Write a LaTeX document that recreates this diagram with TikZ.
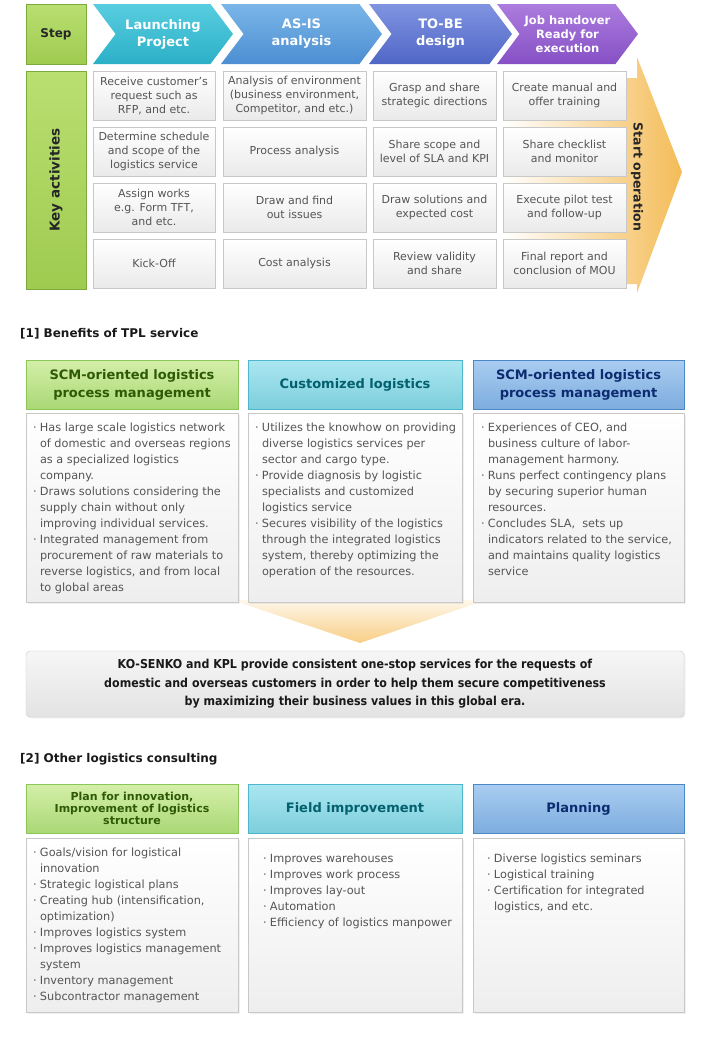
\documentclass[tikz,border=0pt]{standalone}
\usepackage{fontspec}
\setmainfont{DejaVu Sans}
\newfontfamily\condfont[FakeStretch=0.9]{DejaVu Sans}
\usepackage{tikz}
\usetikzlibrary{positioning,shapes.symbols,shadows}

\definecolor{stepgreentop}{HTML}{B9DF71}
\definecolor{stepgreenbot}{HTML}{9FCB50}
\definecolor{stepgreenline}{HTML}{7CAA3D}
\definecolor{launchtop}{HTML}{58CDE0}
\definecolor{launchbot}{HTML}{2BB0C7}
\definecolor{asistop}{HTML}{7BB6E8}
\definecolor{asisbot}{HTML}{4C8ED2}
\definecolor{tobetop}{HTML}{8094E0}
\definecolor{tobebot}{HTML}{4F66C6}
\definecolor{jobtop}{HTML}{AC7CDE}
\definecolor{jobbot}{HTML}{8650C5}
\definecolor{arroworange}{HTML}{F4BC57}
\definecolor{cellgray}{HTML}{C8C8C8}
\definecolor{cellbot}{HTML}{EAEAEA}
\definecolor{textgray}{HTML}{555555}
\definecolor{greentop}{HTML}{D4EFA8}
\definecolor{greenbot}{HTML}{AAD876}
\definecolor{greenline}{HTML}{8CC655}
\definecolor{greentext}{HTML}{2E5A06}
\definecolor{cyantop}{HTML}{ABE7F1}
\definecolor{cyanbot}{HTML}{7DCEDC}
\definecolor{cyanline}{HTML}{4DB8CB}
\definecolor{cyantext}{HTML}{03606E}
\definecolor{bluetop}{HTML}{AACDF1}
\definecolor{bluebot}{HTML}{7DADDE}
\definecolor{blueline}{HTML}{4A88C8}
\definecolor{bluetext}{HTML}{0D2B70}
\definecolor{bodybot}{HTML}{EEEEEE}
\definecolor{funneltop}{HTML}{FEF7EA}
\definecolor{funnelbot}{HTML}{F8CE84}
\definecolor{sumtop}{HTML}{F6F6F6}
\definecolor{sumbot}{HTML}{E3E3E3}

\newcommand{\dotitem}{\makebox[7pt][l]{·}}
\newcommand{\dotgap}{\hspace*{7pt}}

\tikzset{
    stepnode/.style={ % green label boxes on the left
        draw=stepgreenline,
        top color=stepgreentop, bottom color=stepgreenbot,
        minimum width=60pt,
        inner sep=0pt, outer sep=0pt,
        text=black!85,
        font=\bfseries\fontsize{12}{14}\selectfont
    },
    chevnode/.style={ % requires library shapes.symbols
        signal, signal from=west, signal to=east,
        signal pointer angle=106,
        minimum height=60pt,
        inner sep=0pt, outer sep=0pt,
        align=center, text=white,
        font=\bfseries\fontsize{13}{17}\selectfont
    },
    cellnode/.style={
        draw=cellgray,
        top color=white, bottom color=cellbot,
        minimum height=49pt,
        inner sep=0pt, outer sep=0pt,
        align=center, text=textgray,
        font=\fontsize{11}{14}\selectfont
    },
    headnode/.style={
        minimum height=49pt,
        inner sep=0pt, outer sep=0pt,
        align=center,
        font=\bfseries\fontsize{13}{18}\selectfont
    },
    greenhead/.style={draw=greenline, top color=greentop, bottom color=greenbot, text=greentext},
    cyanhead/.style={draw=cyanline, top color=cyantop, bottom color=cyanbot, text=cyantext},
    bluehead/.style={draw=blueline, top color=bluetop, bottom color=bluebot, text=bluetext},
    bodynode/.style={
        draw=cellgray,
        top color=white, bottom color=bodybot,
        inner sep=0pt, outer sep=0pt,
        drop shadow={shadow xshift=1.5pt, shadow yshift=-1.5pt, opacity=0.12}
    },
    bodytext/.style={
        inner sep=0pt, outer sep=0pt,
        align=left, text=textgray,
        font=\fontsize{11.3}{16}\selectfont
    },
    titlenode/.style={
        anchor=west, inner sep=0pt,
        text=black!90,
        font=\bfseries\fontsize{12}{14}\selectfont
    }
}

\begin{document}
\begin{tikzpicture}[x=1pt, y=-1pt]
    \useasboundingbox (0,0) rectangle (707,1053);
    \def\gap{7pt}

    % steps
    \node[stepnode, minimum height=60pt] (step) at (56,34) {Step};
    \node[chevnode, top color=launchtop, bottom color=launchbot, minimum width=140pt] (launch) at (163,34) {Launching\\Project};
    \node[chevnode, top color=asistop, bottom color=asisbot, minimum width=161pt] (asis) at (301.5,34) {AS-IS\\analysis};
    \node[chevnode, top color=tobetop, bottom color=tobebot, minimum width=143pt] (tobe) at (440.5,34) {TO-BE\\design};
    \node[chevnode, top color=jobtop, bottom color=jobbot, minimum width=141pt, font=\bfseries\fontsize{11.5}{14}\selectfont] (handover) at (567.5,34) {Job handover\\Ready for\\execution};

    % start operation arrow, behind the last column
    \path[left color=white, right color=arroworange] (503,78) -- (637,78) -- (637,57) -- (682,172) -- (637,293) -- (637,284) -- (503,284) -- cycle;
    \node[rotate=-90, text=black!85, font=\bfseries\fontsize{12.5}{14}\selectfont] (start) at (637,177) {Start operation};

    % key activities
    \node[stepnode, minimum height=218pt, below = \gap of step] (key) {\rotatebox{90}{\fontsize{13.5}{15}\selectfont Key activities}};

    \node[cellnode, minimum width=122pt, below right = 0pt and \gap of key.north east] (r1c1) {Receive customer's\\request such as\\RFP, and etc.};
    \node[cellnode, minimum width=122pt, below = \gap of r1c1] (r2c1) {Determine schedule\\and scope of the\\logistics service};
    \node[cellnode, minimum width=122pt, below = \gap of r2c1] (r3c1) {Assign works\\e.g. Form TFT,\\and etc.};
    \node[cellnode, minimum width=122pt, below = \gap of r3c1] (r4c1) {Kick-Off};

    \node[cellnode, minimum width=143pt, right = 8pt of r1c1] (r1c2) {Analysis of environment\\(business environment,\\Competitor, and etc.)};
    \node[cellnode, minimum width=143pt, right = 8pt of r2c1] (r2c2) {Process analysis};
    \node[cellnode, minimum width=143pt, right = 8pt of r3c1] (r3c2) {Draw and find\\out issues};
    \node[cellnode, minimum width=143pt, right = 8pt of r4c1] (r4c2) {Cost analysis};

    \node[cellnode, minimum width=123pt, right = \gap of r1c2] (r1c3) {Grasp and share\\strategic directions};
    \node[cellnode, minimum width=123pt, right = \gap of r2c2] (r2c3) {Share scope and\\level of SLA and KPI};
    \node[cellnode, minimum width=123pt, right = \gap of r3c2] (r3c3) {Draw solutions and\\expected cost};
    \node[cellnode, minimum width=123pt, right = \gap of r4c2] (r4c3) {Review validity\\and share};

    \node[cellnode, minimum width=123pt, right = \gap of r1c3] (r1c4) {Create manual and\\offer training};
    \node[cellnode, minimum width=123pt, right = \gap of r2c3] (r2c4) {Share checklist\\and monitor};
    \node[cellnode, minimum width=123pt, right = \gap of r3c3] (r3c4) {Execute pilot test\\and follow-up};
    \node[cellnode, minimum width=123pt, right = \gap of r4c3] (r4c4) {Final report and\\conclusion of MOU};

    % [1] benefits
    \node[titlenode] (title1) at (20,334) {[1] Benefits of TPL service};

    \path[top color=funneltop, bottom color=funnelbot] (232,600) -- (486,600) -- (360,643) -- cycle;

    \node[headnode, greenhead, minimum width=212pt, anchor=north west] (scm) at (26,360) {SCM-oriented logistics\\process management};
    \node[headnode, cyanhead, minimum width=214pt, right = 10pt of scm] (custom) {Customized logistics};
    \node[headnode, bluehead, minimum width=211pt, right = 11pt of custom] (harmony) {SCM-oriented logistics\\process management};

    \node[bodynode, minimum width=212pt, minimum height=189pt, below = 4pt of scm] (scmbody) {};
    \node[bodynode, minimum width=214pt, minimum height=189pt, below = 4pt of custom] (custombody) {};
    \node[bodynode, minimum width=211pt, minimum height=189pt, below = 4pt of harmony] (harmonybody) {};

    \node[bodytext, below right = 10pt and 7pt of scmbody.north west] (scmtext) {%
        \dotitem Has large scale logistics network\\
        \dotgap of domestic and overseas regions\\
        \dotgap as a specialized logistics\\
        \dotgap company.\\
        \dotitem Draws solutions considering the\\
        \dotgap supply chain without only\\
        \dotgap improving individual services.\\
        \dotitem Integrated management from\\
        \dotgap procurement of raw materials to\\
        \dotgap reverse logistics, and from local\\
        \dotgap to global areas};
    \node[bodytext, below right = 10pt and 7pt of custombody.north west] (customtext) {%
        \dotitem Utilizes the knowhow on providing\\
        \dotgap diverse logistics services per\\
        \dotgap sector and cargo type.\\
        \dotitem Provide diagnosis by logistic\\
        \dotgap specialists and customized\\
        \dotgap logistics service\\
        \dotitem Secures visibility of the logistics\\
        \dotgap through the integrated logistics\\
        \dotgap system, thereby optimizing the\\
        \dotgap operation of the resources.};
    \node[bodytext, below right = 10pt and 8pt of harmonybody.north west] (harmonytext) {%
        \dotitem Experiences of CEO, and\\
        \dotgap business culture of labor-\\
        \dotgap management harmony.\\
        \dotitem Runs perfect contingency plans\\
        \dotgap by securing superior human\\
        \dotgap resources.\\
        \dotitem Concludes SLA,\ \ sets up\\
        \dotgap indicators related to the service,\\
        \dotgap and maintains quality logistics\\
        \dotgap service};

    \node[bodynode, rounded corners=4pt, top color=sumtop, bottom color=sumbot, minimum width=658pt, minimum height=66pt,
        align=center, text=black!90, font=\condfont\bfseries\fontsize{12.3}{18.5}\selectfont] (summary) at (355,684)
        {KO-SENKO and KPL provide consistent one-stop services for the requests of\\
         domestic and overseas customers in order to help them secure competitiveness\\
         by maximizing their business values in this global era.};

    % [2] other consulting
    \node[titlenode] (title2) at (20,759) {[2] Other logistics consulting};

    \node[headnode, greenhead, minimum width=212pt, anchor=north west, font=\bfseries\fontsize{11}{12}\selectfont] (plan) at (26,784) {Plan for innovation,\\Improvement of logistics\\structure};
    \node[headnode, cyanhead, minimum width=214pt, right = 10pt of plan] (field) {Field improvement};
    \node[headnode, bluehead, minimum width=211pt, right = 11pt of field] (planning) {Planning};

    \node[bodynode, minimum width=212pt, minimum height=174pt, below = 5pt of plan] (planbody) {};
    \node[bodynode, minimum width=214pt, minimum height=174pt, below = 5pt of field] (fieldbody) {};
    \node[bodynode, minimum width=211pt, minimum height=174pt, below = 5pt of planning] (planningbody) {};

    \node[bodytext, below right = 10pt and 7pt of planbody.north west] (plantext) {%
        \dotitem Goals/vision for logistical\\
        \dotgap innovation\\
        \dotitem Strategic logistical plans\\
        \dotitem Creating hub (intensification,\\
        \dotgap optimization)\\
        \dotitem Improves logistics system\\
        \dotitem Improves logistics management\\
        \dotgap system\\
        \dotitem Inventory management\\
        \dotitem Subcontractor management};
    \node[bodytext, below right = 16pt and 15pt of fieldbody.north west] (fieldtext) {%
        \dotitem Improves warehouses\\
        \dotitem Improves work process\\
        \dotitem Improves lay-out\\
        \dotitem Automation\\
        \dotitem Efficiency of logistics manpower};
    \node[bodytext, below right = 16pt and 14pt of planningbody.north west] (planningtext) {%
        \dotitem Diverse logistics seminars\\
        \dotitem Logistical training\\
        \dotitem Certification for integrated\\
        \dotgap logistics, and etc.};
\end{tikzpicture}
\end{document}
